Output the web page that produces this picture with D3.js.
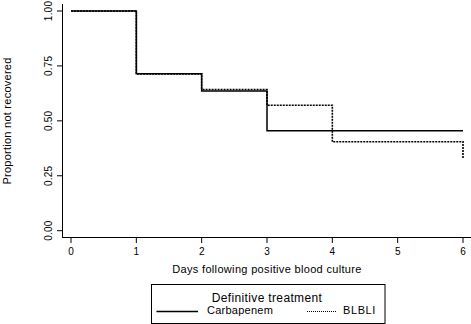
<!DOCTYPE html>
<html>
<head>
<meta charset="utf-8">
<script src="https://cdn.jsdelivr.net/npm/d3@7"></script>
<style>
  body { margin: 0; background: #fff; }
  text { font-family: "Liberation Sans", Arial, sans-serif; fill: #000; }
</style>
</head>
<body>
<div id="chart"></div>
<script>
// step data: [day, proportion]
let carbapenem = [[0, 1.0], [1, 0.714], [2, 0.636], [3, 0.455], [6, 0.455]];
let blbli = [[0, 1.0], [1, 0.714], [2, 0.643], [3, 0.571], [4, 0.405], [6, 0.33]];
let xTicks = [0, 1, 2, 3, 4, 5, 6];
let yTicks = [0, 0.25, 0.5, 0.75, 1];

let width = 471, height = 324;

let svg = d3.select("#chart")
    .append("svg")
    .attr("width", width)
    .attr("height", height);

let x = d3.scaleLinear().domain([0, 6]).range([71, 463]);
let y = d3.scaleLinear().domain([0, 1]).range([230.7, 11]);

// axes lines
svg.append("line")
    .attr("x1", 62.5).attr("x2", 62.5)
    .attr("y1", 4).attr("y2", 237.5)
    .attr("stroke", "#000").attr("stroke-width", 1);
svg.append("line")
    .attr("x1", 62).attr("x2", 471)
    .attr("y1", 237.5).attr("y2", 237.5)
    .attr("stroke", "#000").attr("stroke-width", 1);

// y ticks
let yAxis = svg.append("g");
yTicks.forEach(function (t) {
    yAxis.append("line")
        .attr("x1", 57).attr("x2", 62.5)
        .attr("y1", y(t)).attr("y2", y(t))
        .attr("stroke", "#000");
    yAxis.append("text")
        .attr("transform", `translate(52, ${y(t)}) rotate(-90)`)
        .attr("text-anchor", "middle")
        .style("font-size", "10px")
        .style("letter-spacing", "0.2px")
        .text(d3.format(".2f")(t));
});

// x ticks
let xAxis = svg.append("g");
xTicks.forEach(function (t) {
    xAxis.append("line")
        .attr("x1", x(t)).attr("x2", x(t))
        .attr("y1", 237.5).attr("y2", 243)
        .attr("stroke", "#000");
    xAxis.append("text")
        .attr("x", x(t)).attr("y", 254.5)
        .attr("text-anchor", "middle")
        .style("font-size", "10px")
        .text(t);
});

// axis titles
svg.append("text")
    .attr("x", 267).attr("y", 272.5)
    .attr("text-anchor", "middle")
    .style("font-size", "11px")
    .style("letter-spacing", "0.33px")
    .text("Days following positive blood culture");

svg.append("text")
    .attr("transform", "translate(10.5, 121) rotate(-90)")
    .attr("text-anchor", "middle")
    .style("font-size", "11px")
    .style("letter-spacing", "0.25px")
    .text("Proportion not recovered");

let line = d3.line()
    .curve(d3.curveStepAfter)
    .x(function (d) { return x(d[0]); })
    .y(function (d) { return y(d[1]); });

// BLBLI drawn first so the solid line sits on top where they overlap
// last point is a drop at day 6
let blbliPath = blbli.slice(0, -1).concat([[6, blbli[blbli.length - 2][1]], blbli[blbli.length - 1]]);
svg.append("path")
    .datum(blbliPath)
    .attr("fill", "none")
    .attr("stroke", "#000")
    .attr("stroke-width", 1.6)
    .attr("stroke-dasharray", "2,1")
    .attr("d", line);

svg.append("path")
    .datum(carbapenem)
    .attr("fill", "none")
    .attr("stroke", "#000")
    .attr("stroke-width", 1.5)
    .attr("d", line);

// legend
let legend = svg.append("g");
legend.append("rect")
    .attr("x", 151.5).attr("y", 284.5)
    .attr("width", 233.5).attr("height", 39)
    .attr("fill", "#fff")
    .attr("stroke", "#000");
legend.append("text")
    .attr("x", 267).attr("y", 301.5)
    .attr("text-anchor", "middle")
    .style("font-size", "12px")
    .style("letter-spacing", "0.35px")
    .text("Definitive treatment");
legend.append("line")
    .attr("x1", 156.5).attr("x2", 198)
    .attr("y1", 311.5).attr("y2", 311.5)
    .attr("stroke", "#000").attr("stroke-width", 1.5);
legend.append("text")
    .attr("x", 207).attr("y", 313.5)
    .style("font-size", "11px")
    .style("letter-spacing", "0.25px")
    .text("Carbapenem");
legend.append("line")
    .attr("x1", 307).attr("x2", 336)
    .attr("y1", 311.5).attr("y2", 311.5)
    .attr("stroke", "#000").attr("stroke-width", 1)
    .attr("stroke-dasharray", "1,1");
legend.append("text")
    .attr("x", 343).attr("y", 313.5)
    .style("font-size", "11px")
    .style("letter-spacing", "0.6px")
    .text("BLBLI");
</script>
</body>
</html>
